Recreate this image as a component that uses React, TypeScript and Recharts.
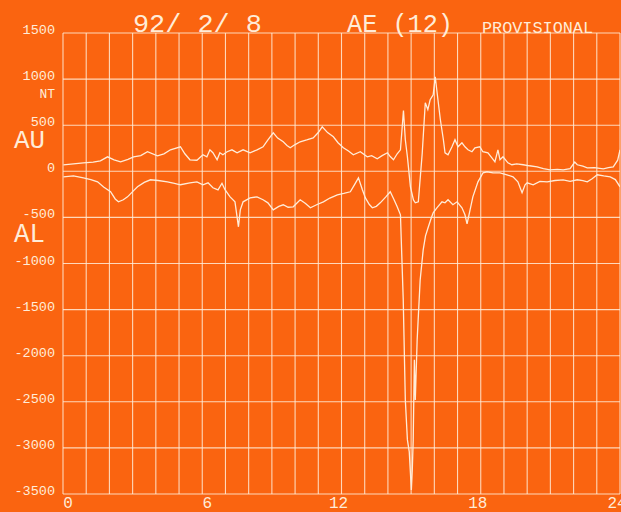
import { LineChart, Line, XAxis, YAxis, CartesianGrid } from 'recharts';

// AE index plot, 1992-02-08, AU (upper) and AL (lower) in nT against UT hour
const hourTicks = [0, 1, 2, 3, 4, 5, 6, 7, 8, 9, 10, 11, 12, 13, 14, 15, 16, 17, 18, 19, 20, 21, 22, 23, 24];
const labelledHours = [0, 6, 12, 18, 24];
const ntTicks = [1500, 1000, 500, 0, -500, -1000, -1500, -2000, -2500, -3000, -3500];

// [hour, nT]
const auPoints: [number, number][] = [
  [0.02, 70], [0.45, 80], [0.88, 92], [1.3, 100], [1.61, 114], [1.92, 157], [2.2, 125], [2.48, 103],
  [2.8, 130], [3.04, 157], [3.35, 170], [3.64, 212], [4.07, 168], [4.35, 190], [4.63, 233], [5.06, 266],
  [5.25, 190], [5.47, 125], [5.77, 120], [6.03, 179], [6.2, 157], [6.33, 233], [6.46, 201], [6.64, 125],
  [6.76, 201], [6.89, 179], [7.07, 212], [7.28, 233], [7.5, 201], [7.76, 233], [8.06, 201], [8.36, 233],
  [8.62, 266], [8.83, 342], [9.06, 418], [9.25, 360], [9.49, 320], [9.65, 280], [9.79, 255], [10.0, 290],
  [10.22, 320], [10.5, 340], [10.78, 363], [11.0, 420], [11.17, 483], [11.4, 420], [11.65, 374], [11.85, 310],
  [12.08, 255], [12.3, 220], [12.51, 179], [12.81, 212], [13.11, 157], [13.3, 170], [13.54, 136], [13.75, 170],
  [13.98, 201], [14.1, 160], [14.24, 125], [14.4, 190], [14.54, 233], [14.67, 660], [14.75, 342], [14.84, 157],
  [14.97, -168], [15.1, -310], [15.18, -342], [15.31, -331], [15.48, 201], [15.61, 743], [15.72, 670], [15.82, 776],
  [15.95, 830], [16.04, 1025], [16.13, 830], [16.26, 559], [16.39, 342], [16.46, 201], [16.59, 179], [16.76, 266],
  [16.89, 342], [17.02, 266], [17.19, 309], [17.32, 266], [17.45, 233], [17.62, 212], [17.75, 255], [17.96, 266],
  [18.09, 212], [18.31, 201], [18.48, 146], [18.61, 103], [18.74, 233], [18.83, 125], [18.96, 157], [19.17, 92],
  [19.34, 71], [19.55, 80], [19.83, 71], [20.1, 60], [20.43, 49], [20.7, 30], [20.99, 16], [21.3, 20],
  [21.55, 16], [21.85, 30], [22.05, 100], [22.16, 71], [22.4, 55], [22.59, 38], [22.9, 40], [23.28, 27],
  [23.5, 40], [23.71, 49], [23.9, 120], [24.0, 233],
];

const alPoints: [number, number][] = [
  [0.02, -60], [0.45, -49], [0.88, -71], [1.2, -90], [1.49, -114], [1.75, -170], [2.05, -222], [2.25, -300],
  [2.39, -331], [2.6, -309], [2.78, -277], [3.0, -220], [3.21, -168], [3.5, -120], [3.77, -92], [4.1, -100],
  [4.5, -114], [4.8, -130], [5.06, -146], [5.47, -125], [5.77, -114], [6.03, -146], [6.25, -125], [6.46, -179],
  [6.68, -201], [6.85, -130], [6.98, -200], [7.2, -277], [7.41, -331], [7.56, -602], [7.64, -418], [7.76, -331],
  [8.06, -288], [8.36, -277], [8.62, -309], [8.83, -342], [9.06, -418], [9.3, -380], [9.49, -363], [9.7, -390],
  [9.92, -385], [10.22, -309], [10.45, -350], [10.66, -396], [10.95, -360], [11.22, -331], [11.5, -290], [11.82, -255],
  [12.1, -240], [12.38, -222], [12.55, -150], [12.73, -71], [12.9, -200], [13.03, -288], [13.2, -360], [13.33, -396],
  [13.5, -380], [13.67, -342], [13.9, -280], [14.1, -222], [14.25, -300], [14.4, -385], [14.54, -472], [14.66, -1394],
  [14.75, -2479], [14.84, -2913], [14.92, -3043], [15.01, -3456], [15.05, -3239], [15.09, -2913], [15.14, -2045], [15.18, -2479],
  [15.26, -1828], [15.39, -1177], [15.52, -852], [15.62, -700], [15.73, -613], [15.85, -520], [15.95, -450], [16.11, -396],
  [16.33, -331], [16.46, -342], [16.59, -309], [16.8, -363], [16.98, -331], [17.19, -396], [17.32, -472], [17.41, -570],
  [17.54, -418], [17.66, -277], [17.88, -114], [18.1, -16], [18.27, -5], [18.53, -16], [18.83, -16], [19.13, -38],
  [19.39, -60], [19.6, -114], [19.78, -233], [19.91, -146], [20.0, -125], [20.26, -146], [20.55, -110], [20.86, -114],
  [21.2, -100], [21.55, -92], [21.85, -110], [22.16, -92], [22.4, -100], [22.59, -114], [22.8, -80], [23.02, -38],
  [23.3, -50], [23.58, -60], [23.8, -90], [24.0, -168],
];

const toRows = (pts: [number, number][]) => pts.map(([t, v]) => ({ t, v }));

const paper = '#fa6410';
const ink = '#ffecd8';
const mono = '"Liberation Mono", "DejaVu Sans Mono", monospace';

const HourTick = ({ x, payload }: any) => {
  const h = payload.value;
  if (!labelledHours.includes(h)) return <g />;
  const label = String(h);
  const dx = label.length === 1 ? 5 : -3;
  return (
    <text x={x + dx} y={508} textAnchor="middle" fill={ink} fontSize={16} fontFamily={mono}>
      {label}
    </text>
  );
};

const NtTick = ({ y, payload }: any) => (
  <text x={55} y={y + 1} textAnchor="end" fill={ink} fontSize={13.5} fontFamily={mono}>
    {payload.value}
  </text>
);

export default function App() {
  return (
    <div style={{ position: 'absolute', left: 0, top: 0, width: 621, height: 512, background: paper, overflow: 'hidden' }}>
      <LineChart width={621} height={512} margin={{ top: 33, right: 1, bottom: 0, left: 1 }}>
        <CartesianGrid stroke={ink} strokeWidth={1.1} strokeOpacity={0.85} />
        <XAxis
          dataKey="t"
          type="number"
          domain={[0, 24]}
          ticks={hourTicks}
          interval={0}
          tick={<HourTick />}
          tickLine={false}
          axisLine={false}
          height={18}
          allowDataOverflow
        />
        <YAxis
          type="number"
          domain={[-3500, 1500]}
          ticks={ntTicks}
          interval={0}
          tick={<NtTick />}
          tickLine={false}
          axisLine={false}
          width={62}
          allowDataOverflow
        />
        <Line data={toRows(auPoints)} dataKey="v" name="AU" type="linear" stroke={ink} strokeWidth={1.3} dot={false} isAnimationActive={false} />
        <Line data={toRows(alPoints)} dataKey="v" name="AL" type="linear" stroke={ink} strokeWidth={1.3} dot={false} isAnimationActive={false} />
      </LineChart>
      <svg width={621} height={512} style={{ position: 'absolute', left: 0, top: 0, pointerEvents: 'none' }}>
        <text x={133} y={32} fill={ink} fontSize={26} fontFamily={mono} textLength={129} lengthAdjust="spacingAndGlyphs">
          92/ 2/ 8
        </text>
        <text x={347} y={32} fill={ink} fontSize={26} fontFamily={mono} textLength={106} lengthAdjust="spacingAndGlyphs">
          AE (12)
        </text>
        <text x={482} y={33} fill={ink} fontSize={16} fontFamily={mono} textLength={111} lengthAdjust="spacingAndGlyphs">
          PROVISIONAL
        </text>
        <text x={55} y={98} textAnchor="end" fill={ink} fontSize={13} fontFamily={mono}>
          NT
        </text>
        <text x={14} y={148} fill={ink} fontSize={26} fontFamily={mono} textLength={31} lengthAdjust="spacingAndGlyphs">
          AU
        </text>
        <text x={14} y={242} fill={ink} fontSize={27} fontFamily={mono} textLength={31} lengthAdjust="spacingAndGlyphs">
          AL
        </text>
      </svg>
    </div>
  );
}
